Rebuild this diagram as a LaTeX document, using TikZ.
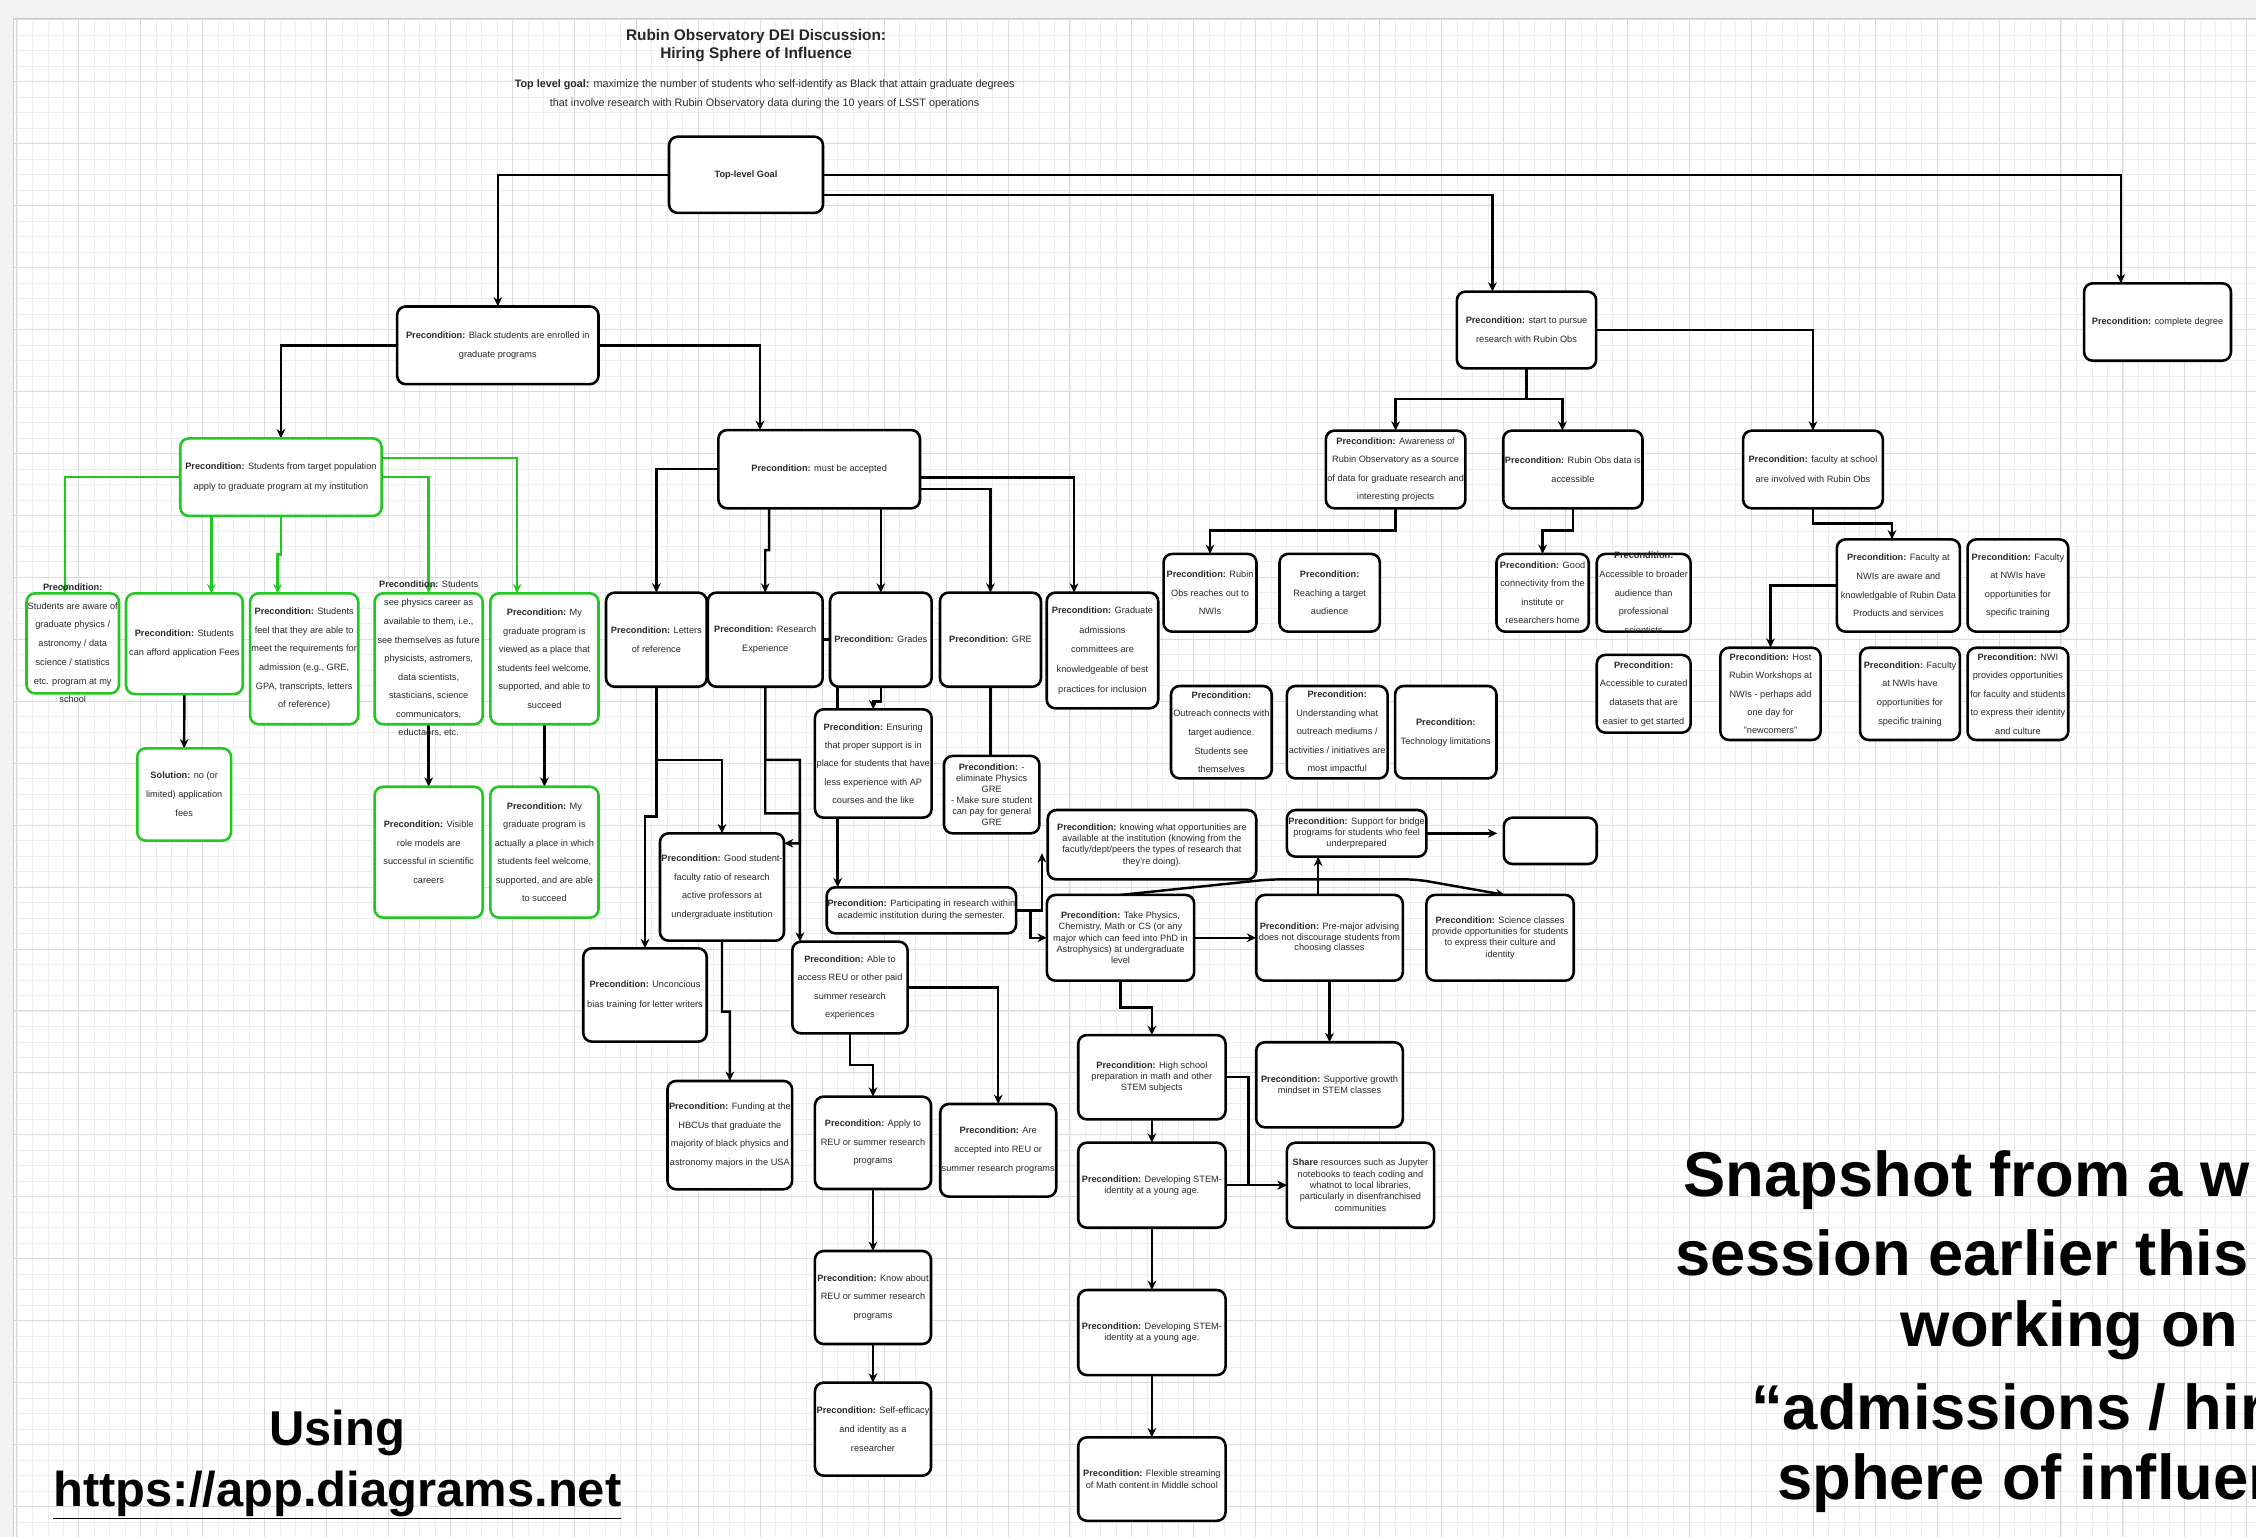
\documentclass[tikz,border=0pt]{standalone}
\usepackage{fontspec}
\setmainfont{Liberation Sans}
\usetikzlibrary{arrows.meta,calc}
\pgfdeclarelayer{gridlayer}
\pgfdeclarelayer{edgelayer}
\pgfsetlayers{gridlayer,edgelayer,main}
\definecolor{grn}{RGB}{34,200,34}
\definecolor{txtc}{RGB}{40,40,40}
\newcommand{\pcn}{\textbf{Precondition:}}
\tikzset{
 box/.style={draw=black,line width=1.8pt,rounded corners=6pt,fill=white,inner sep=0pt,outer sep=0pt},
 gbox/.style={box,draw=grn},
 txt/.style={align=center,inner sep=0pt,text=txtc},
 arr/.style={line width=1.7pt,-{Stealth[length=6.5pt,width=6pt]}},
 garr/.style={arr,draw=grn},
 plainline/.style={line width=1.7pt},
 minorgrid/.style={gray!14,line width=0.5pt},
 majorgrid/.style={gray!28,line width=0.6pt},
}
\newcommand{\bx}[8][box]{%
 \node[#1,minimum width={#5-#3},minimum height={#6-#4}] (#2) at ({(#3+#5)/2},{(#4+#6)/2}) {};
 \node[txt,font=\fontsize{6.4}{#7}\selectfont] (#2-t) at (#2.center) {#8};}
\begin{document}
\begin{tikzpicture}[x=1pt,y=-1pt]
\useasboundingbox (0,0) rectangle (1568,1068);
\begin{pgfonlayer}{gridlayer}
\fill[white] (0,0) rectangle (1568,1068);
\foreach \i in {0,...,145} \draw[minorgrid] ({11.75+\i*10.7625},13) -- ({11.75+\i*10.7625},1068);
\foreach \i in {0,...,98} \draw[minorgrid] (9,{13.8+\i*10.7625}) -- (1568,{13.8+\i*10.7625});
\foreach \i in {0,...,36} \draw[majorgrid] ({11.75+\i*43.05},13) -- ({11.75+\i*43.05},1068);
\foreach \i in {0,...,24} \draw[majorgrid] (9,{13.8+\i*43.05}) -- (1568,{13.8+\i*43.05});
\fill[gray!10] (0,0) rectangle (1568,13);
\fill[gray!10] (0,0) rectangle (9,1068);
\draw[gray!40,line width=0.6pt] (9,1068) -- (9,13) -- (1568,13);
\end{pgfonlayer}

% titles
\node[align=center,inner sep=0pt,font=\fontsize{10.7}{12.7}\selectfont\bfseries,text=black!85] (title) at (525.5,31.9) {Rubin Observatory DEI Discussion:\\Hiring Sphere of Influence};
\node[align=center,inner sep=0pt,font=\fontsize{7.5}{13.2}\selectfont,text=txtc] (goaltext) at (531.5,65.2) {\textbf{Top level goal:} maximize the number of students who self-identify as Black that attain graduate degrees\\that involve research with Rubin Observatory data during the 10 years of LSST operations};

% boxes
\bx{goal}{465}{95}{572}{148}{8}{\textbf{Top-level Goal}}
\bx{black}{276}{213}{416}{267}{13}{\pcn{} Black students are enrolled in\\graduate programs}
\bx[gbox]{tgt}{125.3}{304.7}{265.2}{358.6}{13.4}{\pcn{} Students from target population\\apply to graduate program at my institution}
\bx[gbox]{aware}{18.4}{412.4}{82.7}{481.9}{13}{\textbf{Precondition:}\\Students are aware of\\graduate physics /\\astronomy / data\\science / statistics\\etc. program at my\\school}
\bx[gbox]{afford}{87.6}{412.4}{168.7}{482.4}{13.7}{\pcn{} Students\\can afford application Fees}
\bx[gbox]{feel}{173.8}{412.4}{249}{503.4}{12.9}{\pcn{} Students\\feel that they are able to\\meet the requirements for\\admission (e.g., GRE,\\GPA, transcripts, letters\\of reference)}
\bx[gbox]{seephys}{260.4}{412.4}{335.5}{503.4}{12.9}{\pcn{} Students\\see physics career as\\available to them, i.e.,\\see themselves as future\\physicists, astromers,\\data scientists,\\stasticians, science\\communicators,\\eductaors, etc.}
\bx[gbox]{viewed}{340.8}{412.4}{416}{503.4}{12.9}{\pcn{} My\\graduate program is\\viewed as a place that\\students feel welcome,\\supported, and able to\\succeed}
\bx[gbox]{solution}{95.4}{520.1}{160.6}{584.3}{13.1}{\textbf{Solution:} no (or\\limited) application\\fees}
\bx[gbox]{visible}{260.4}{546.8}{335.5}{637.8}{12.8}{\pcn{} Visible\\role models are\\successful in scientific\\careers}
\bx[gbox]{actual}{340.8}{546.8}{416}{637.8}{12.9}{\pcn{} My\\graduate program is\\actually a place in which\\students feel welcome,\\supported, and are able\\to succeed}
\bx{mustacc}{499.3}{298.9}{639.4}{353.3}{13}{\pcn{} must be accepted}
\bx{letters}{421.2}{411.9}{491.2}{477.3}{13.2}{\pcn{} Letters\\of reference}
\bx{research}{491.9}{411.9}{571.8}{477.3}{13.2}{\pcn{} Research\\Experience}
\bx{grades}{576.9}{411.9}{647.5}{477.3}{13}{\pcn{} Grades}
\bx{gre}{653.3}{411.9}{723.5}{477.3}{13}{\pcn{} GRE}
\bx{admissions}{727.5}{411.9}{805}{492.3}{13.7}{\pcn{} Graduate\\admissions\\committees are\\knowledgeable of best\\practices for inclusion}
\bx{ensuring}{566.4}{493}{647.5}{568.3}{12.75}{\pcn{} Ensuring\\that proper support is in\\place for students that have\\less experience with AP\\courses and the like}
\bx{elim}{656.1}{525.4}{722.4}{579.2}{7.6}{\pcn{} -\\eliminate Physics\\GRE\\- Make sure student\\can pay for general\\GRE}
\bx{good}{458.7}{579.2}{544.9}{653.8}{13}{\pcn{} Good student-\\faculty ratio of research\\active professors at\\undergraduate institution}
\bx{part}{574.6}{616.7}{706.2}{648.7}{8.2}{\pcn{} Participating in research within\\academic institution during the semester.}
\bx{uncon}{405.4}{659.1}{491.2}{724}{13.5}{\pcn{} Unconcious\\bias training for letter writers}
\bx{able}{550.7}{654.5}{630.8}{718.2}{12.9}{\pcn{} Able to\\access REU or other paid\\summer research\\experiences}
\bx{funding}{463.9}{751.3}{550.6}{826.6}{13}{\pcn{} Funding at the\\HBCUs that graduate the\\majority of black physics and\\astronomy majors in the USA}
\bx{apply}{566.4}{762.2}{647.1}{826.4}{13}{\pcn{} Apply to\\REU or summer research\\programs}
\bx{acc}{653.5}{767.3}{734.1}{831.7}{13}{\pcn{} Are\\accepted into REU or\\summer research programs}
\bx{know}{566.4}{869.5}{647.1}{934.1}{13}{\pcn{} Know about\\REU or summer research\\programs}
\bx{self}{566.4}{961}{647.1}{1025.6}{13}{\pcn{} Self-efficacy\\and identity as a\\researcher}
\bx{knowing}{728.2}{563}{873.1}{611.2}{7.9}{\pcn{} knowing what opportunities are\\available at the institution (knowing from the\\facutly/dept/peers the types of research that\\they're doing).}
\bx{take}{727.6}{622}{830}{681.6}{7.8}{\pcn{} Take Physics,\\Chemistry, Math or CS (or any\\major which can feed into PhD in\\Astrophysics) at undergraduate\\level}
\bx{premajor}{873.1}{622}{975}{681.6}{7.5}{\pcn{} Pre-major advising\\does not discourage students from\\choosing classes}
\bx{bridge}{894.4}{563}{991.4}{595.4}{7.65}{\pcn{} Support for bridge\\programs for students who feel\\underprepared}
\bx{empty}{1045.2}{568.3}{1109.8}{600.5}{8}{}
\bx{science}{991.4}{622}{1093.8}{681.6}{7.8}{\pcn{} Science classes\\provide opportunities for students\\to express their culture and\\identity}
\bx{hs}{749.4}{719.4}{851.8}{778}{7.55}{\pcn{} High school\\preparation in math and other\\STEM subjects}
\bx{supportive}{873.1}{724.4}{975}{783.5}{8.1}{\pcn{} Supportive growth\\mindset in STEM classes}
\bx{dev1}{749.4}{794.2}{851.8}{853.3}{7.6}{\pcn{} Developing STEM-\\identity at a young age.}
\bx{share}{894.4}{794.2}{996.7}{853.3}{7.95}{\textbf{Share} resources such as Jupyter\\notebooks to teach coding  and\\whatnot to local libraries,\\particularly in  disenfranchised\\communities}
\bx{dev2}{749.4}{896.6}{851.8}{955.7}{7.6}{\pcn{} Developing STEM-\\identity at a young age.}
\bx{flex}{749.4}{999}{851.8}{1057}{7.9}{\pcn{} Flexible streaming\\of Math content in Middle school}
\bx{start}{1012.6}{202.7}{1109.4}{256}{13.4}{\pcn{} start to pursue\\research with Rubin Obs}
\bx{complete}{1448.5}{196.9}{1550.6}{250.7}{13}{\pcn{} complete degree}
\bx{awareness}{921.5}{299.3}{1018.5}{353.3}{12.8}{\pcn{} Awareness of\\Rubin Observatory as a source\\of data for graduate research and\\interesting projects}
\bx{rubindata}{1044.8}{299.3}{1141.6}{353.3}{13.2}{\pcn{} Rubin Obs data is\\accessible}
\bx{faculty}{1211.5}{299.3}{1308.6}{353.3}{13.7}{\pcn{} faculty at school\\are involved with Rubin Obs}
\bx{reaches}{808.7}{385}{873.3}{439}{13}{\pcn{} Rubin\\Obs reaches out to\\NWIs}
\bx{reaching}{889.3}{385}{959}{439}{13}{\textbf{Precondition:}\\Reaching a target\\audience}
\bx{connect}{1040.1}{385}{1104.2}{439}{12.9}{\pcn{} Good\\connectivity from the\\institute or\\researchers home}
\bx{broader}{1109.8}{385}{1175}{439}{12.9}{\textbf{Precondition:}\\Accessible to broader\\audience than\\professional\\scientists}
\bx{curated}{1109.8}{455.2}{1175}{509.2}{12.9}{\textbf{Precondition:}\\Accessible to curated\\datasets that are\\easier to get started}
\bx{outreach}{813.9}{476.8}{883.9}{541}{12.9}{\textbf{Precondition:}\\Outreach connects with\\target audience.\\Students see\\themselves}
\bx{understanding}{894.4}{476.8}{964.4}{541}{12.9}{\textbf{Precondition:}\\Understanding what\\outreach mediums /\\activities / initiatives are\\most impactful}
\bx{tech}{969.6}{476.8}{1040.1}{541}{13.2}{\textbf{Precondition:}\\Technology limitations}
\bx{facaware}{1276.7}{374.9}{1362.2}{439}{12.9}{\pcn{} Faculty at\\NWIs are aware and\\knowledgable of Rubin Data\\Products and services}
\bx{facopp1}{1367.5}{374.9}{1437.5}{439}{12.9}{\pcn{} Faculty\\at NWIs have\\opportunities for\\specific training}
\bx{host}{1195.7}{450.2}{1265.4}{514.3}{12.75}{\pcn{} Host\\Rubin Workshops at\\NWIs - perhaps add\\one day for\\"newcomers"}
\bx{facopp2}{1292.8}{450.2}{1362.2}{514.3}{12.9}{\pcn{} Faculty\\at NWIs have\\opportunities for\\specific training}
\bx{nwi}{1367.5}{450.2}{1437.5}{514.3}{12.9}{\pcn{} NWI\\provides opportunities\\for faculty and students\\to express their identity\\and culture}

% big texts
\node[align=center,inner sep=0pt,font=\fontsize{34}{42}\selectfont\bfseries] (using) at (234.5,1018) {Using\\\underline{https://app.diagrams.net}};
\begin{scope}[every node/.style={anchor=west,inner sep=0pt,font=\fontsize{44}{50}\selectfont\bfseries}]
\node (snap1) at (1170,820) {Snapshot from a w};
\node (snap2) at (1164,871) {session earlier this};
\node (snap3) at (1321,924.4) {working on};
\node (snap4) at (1217,977.7) {“admissions / hir};
\node (snap5) at (1235,1031) {sphere of influen};
\end{scope}

\coordinate (knin) at (724.2,593);
\coordinate (emptyin) at ([xshift=-4.5pt]empty.west);

\begin{pgfonlayer}{edgelayer}
\draw[arr] (goal.west) -| (black.north);
\draw[arr] (goal.east) -| ([xshift=-25.5pt]complete.north);
\draw[arr] ([yshift=-13.85pt]goal.east) -| ([xshift=-23.7pt]start.north);
\draw[arr] (black.west) -| (tgt.north);
\draw[arr] (black.east) -| ([xshift=-41.15pt]mustacc.north);
% green
\draw[garr] (tgt.west) -| ([xshift=-5.5pt]aware.north);
\draw[garr] (tgt.south -| 146.9,0) -- (afford.north -| 146.9,0);
\draw[garr] (tgt.south) -- (195.25,385.3) -- (192.9,385.3) -- (feel.north -| 192.9,0);
\draw[garr] (tgt.east) -| (seephys.north);
\draw[garr] ([yshift=13.5pt]tgt.east) -| ([xshift=-19pt]viewed.north);
\draw[arr] (afford.south) -- (solution.north);
\draw[arr] (seephys.south) -- (visible.north);
\draw[arr] (viewed.south) -- (actual.north);
% must be accepted
\draw[arr] (mustacc.west) -| (letters.north);
\draw[arr] (mustacc.south -| 534.5,0) -- (534.5,382.3) -- (531.85,382.3) -- (research.north);
\draw[arr] (mustacc.south -| 612.2,0) -- (grades.north);
\draw[arr] ([yshift=-13.8pt]mustacc.east) -| (gre.north);
\draw[arr] ([yshift=-5.7pt]mustacc.east) -| ([xshift=-19.75pt]admissions.north);
\draw[plainline] (research.east) -- (grades.west);
\draw[arr] (grades.south) -- (612.2,487.7) -| (ensuring.north);
\draw[arr] (grades.south -| 582.2,0) -- (part.north -| 582.2,0);
\draw[plainline] (gre.south) -- (gre.south |- elim.north);
\draw[arr] (letters.south) -- (456.2,528.2) -| (good.north);
\draw[arr] (letters.south) -- (456.2,567.6) -| (uncon.north);
\draw[arr] (research.south) -- (531.85,528.2) -- (556,528.2) |- ([yshift=30.4pt]good.east);
\draw[arr] (research.south) -- (531.85,565.3) -| ([xshift=-34.75pt]able.north);
\draw[arr] (good.south) -- (501.8,703.1) -| (funding.north);
\draw[arr] (able.south) -- (590.75,740.2) -| (apply.north);
\draw[arr] (able.east) -| (acc.north);
\draw[arr] (apply.south) -- (know.north);
\draw[arr] (know.south) -- (self.north);
% undergraduate chain
\draw[arr] (part.east) -- (724.2,632.7) -- (knin);
\draw[arr] (part.east) -- (716.3,632.7) |- (take.west);
\draw[arr] (take.east) -- (premajor.west);
\draw[arr] (premajor.north -| 916.2,0) -- (bridge.south -| 916.2,0);
\draw[arr] (bridge.east) -- (emptyin |- bridge.east);
\draw[arr,rounded corners=8pt] (take.north) -- (882.4,611.2) -- (984.8,611.2) -- ([xshift=3.4pt]science.north);
\draw[arr] (take.south) -- (778.8,700.1) -| (hs.north);
\draw[arr] (premajor.south) -- (supportive.north);
\draw[arr] (hs.south) -- (dev1.north);
\draw[arr] (hs.east) -- (867.7,748.7) |- (share.west);
\draw[arr] (dev1.east) -- (share.west);
\draw[arr] (dev1.south) -- (dev2.north);
\draw[arr] (dev2.south) -- (flex.north);
% rubin side
\draw[arr] (start.south) -- (1061,277.5) -| (awareness.north);
\draw[arr] (start.south) -- (1061,277.5) -| ([xshift=-7.3pt]rubindata.north);
\draw[arr] (start.east) -| (faculty.north);
\draw[arr] (awareness.south) -- (970,368.8) -| (reaches.north);
\draw[arr] (rubindata.south) -- (1093.2,368.8) -| (connect.north);
\draw[arr] (faculty.south) -- (1260.05,363.7) -| ([xshift=-4.45pt]facaware.north);
\draw[arr] (facaware.west) -| (host.north);
\end{pgfonlayer}
\end{tikzpicture}
\end{document}
